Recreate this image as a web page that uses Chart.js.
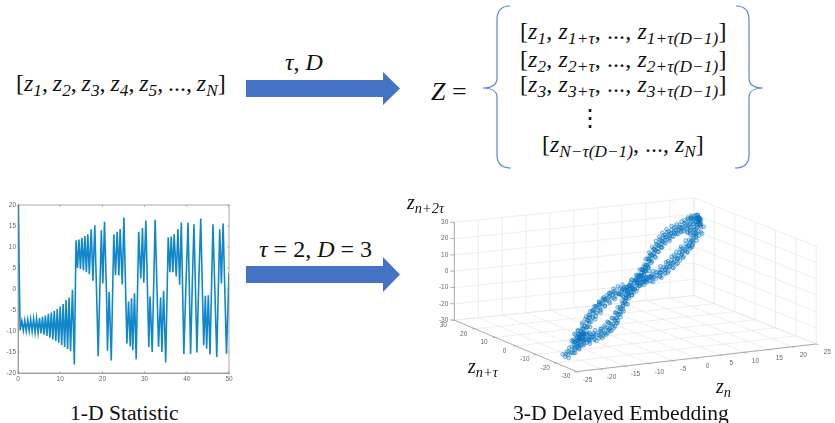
<!DOCTYPE html>
<html>
<head>
<meta charset="utf-8">
<script src="https://cdn.jsdelivr.net/npm/chart.js@4"></script>
<style>
  html, body { margin: 0; padding: 0; background: #fff; overflow: hidden; }
  #page { position: relative; width: 835px; height: 423px; }
  canvas { position: absolute; }
  #statChartBox { position: absolute; left: 0; top: 195px; width: 240px; height: 190px; }
  #embedChartBox { position: absolute; left: 400px; top: 185px; width: 435px; height: 205px; }
  svg { position: absolute; left: 0; top: 0; }
  .t { position: absolute; white-space: nowrap; font-family: "Liberation Serif", serif; color: #111; line-height: 1; }
  .m { font-size: 24px; font-style: italic; }
  .m .u { font-style: normal; }
  .m sub { font-size: 72%; line-height: 0; vertical-align: -0.3em; }
  .cap { font-size: 21.6px; }
</style>
</head>
<body>
<div id="page">
  <svg width="835" height="423">
    <polygon points="246,80 383,80 383,72 400,88.5 383,105 383,97 246,97" fill="#4472C4"/>
    <polygon points="246,266 383,266 383,257 400,274.5 383,292 383,283 246,283" fill="#4472C4"/>
    <g fill="none" stroke="#5B87D2" stroke-width="1.2">
      <path d="M510,6 C501,6 497,11 497,20 L497,78 C497,85 491,88 483,88 C491,88 497,91 497,97 L497,155 C497,163 501,168 511,168"/>
      <path d="M736,6 C745,6 749,11 749,20 L749,78 C749,85 755,88 763,88 C755,88 749,91 749,97 L749,155 C749,163 745,168 735,168"/>
    </g>
  </svg>

  <div id="statChartBox"><canvas id="statChart"></canvas></div>
  <div id="embedChartBox"><canvas id="embedChart"></canvas></div>

  <div class="t m" style="left:16px;top:71px;word-spacing:-1.2px"><span class="u">[</span>z<sub>1</sub><span class="u">, </span>z<sub>2</sub><span class="u">, </span>z<sub>3</sub><span class="u">, </span>z<sub>4</sub><span class="u">, </span>z<sub>5</sub><span class="u">, ..., </span>z<sub>N</sub><span class="u">]</span></div>
  <div class="t m" style="left:285px;top:50px">τ<span class="u">, </span>D</div>
  <div class="t m" style="left:431px;top:79px;font-size:26px">Z <span class="u">=</span></div>

  <div class="t m" style="left:520px;top:19px;letter-spacing:0.1px"><span class="u">[</span>z<sub>1</sub><span class="u">, </span>z<sub>1+τ</sub><span class="u">, ..., </span>z<sub>1+τ(D−1)</sub><span class="u">]</span></div>
  <div class="t m" style="left:520px;top:47px;letter-spacing:0.1px"><span class="u">[</span>z<sub>2</sub><span class="u">, </span>z<sub>2+τ</sub><span class="u">, ..., </span>z<sub>2+τ(D−1)</sub><span class="u">]</span></div>
  <div class="t m" style="left:520px;top:72px;letter-spacing:0.1px"><span class="u">[</span>z<sub>3</sub><span class="u">, </span>z<sub>3+τ</sub><span class="u">, ..., </span>z<sub>3+τ(D−1)</sub><span class="u">]</span></div>
  <div class="t m" style="left:578px;top:106px"><span class="u">⋮</span></div>
  <div class="t m" style="left:542px;top:132px"><span class="u">[</span>z<sub>N−τ(D−1)</sub><span class="u">, ..., </span>z<sub>N</sub><span class="u">]</span></div>

  <div class="t m" style="left:259px;top:237px">τ <span class="u">= 2, </span>D <span class="u">= 3</span></div>

  <div class="t m" style="left:407px;top:192px;font-size:20px">z<sub>n+2τ</sub></div>
  <div class="t m" style="left:468px;top:356px;font-size:20px">z<sub>n+τ</sub></div>
  <div class="t m" style="left:716px;top:376px;font-size:20px">z<sub>n</sub></div>

  <div class="t cap" style="left:70px;top:403px">1-D Statistic</div>
  <div class="t cap" style="left:513px;top:403px">3-D Delayed Embedding</div>
</div>

<script>
// 1-D statistic, turning points
const statTime = [0, 0.1, 0.3, 0.5,
  0.9, 1.25, 1.6, 1.95, 2.3, 2.65, 3.0, 3.35, 3.7, 4.05, 4.4, 4.75, 5.1, 5.45, 5.8, 6.15,
  6.5, 6.85, 7.2, 7.55, 7.9, 8.25, 8.6, 8.95, 9.3, 9.65, 10.0, 10.35, 10.7, 11.05, 11.4, 11.75,
  12.1, 12.45, 12.9, 13.35,
  13.75, 14.1, 14.45, 14.8, 15.15, 15.5, 15.85, 16.2, 16.55, 16.9, 17.35, 17.75, 18.2, 18.7, 19.0,
  19.75, 20.1, 20.5, 21.0, 21.2, 21.6, 22.1, 22.7, 23.1, 23.5, 23.9, 24.2, 24.7, 25.1, 25.8,
  26.2, 26.6, 26.9, 27.2, 27.6, 28.0, 28.6, 29.1, 29.5, 29.8, 30.3, 31.0, 31.3, 31.8, 32.5,
  33.3, 33.8, 34.1, 34.5, 35.0, 35.6, 36.0, 36.3, 36.7, 37.0, 37.5, 37.9, 38.3, 38.7, 39.3,
  39.8, 40.3, 40.9, 41.3, 41.7, 42.4, 42.8, 43.3, 44.0, 44.4, 44.7, 45.1, 45.5, 46.2, 47.1,
  47.8, 48.2, 48.6, 49.4, 50];
const statValue = [8.5, 20, 3, -9.8,
  -7.6, -9.9, -7.5, -10, -7.3, -10, -7.2, -10.1, -7.1, -10.3, -7.0, -10.4, -6.9, -10.6, -6.6, -10.9,
  -6.3, -11.2, -5.9, -11.6, -5.6, -12, -5.2, -12.4, -4.8, -12.8, -4.2, -13.3, -3.6, -13.8, -2.6, -14.3,
  -2, -14.8, -0.2, -18,
  11.6, 5, 11.8, 4.8, 12.2, 4.5, 12.6, 4, 13, 3.5, 14.2, 2, 15.2, -4, -16,
  14, 1.3, 16, -2, -14.7, -0.7, -17, 13, 3.3, 13.6, 3.2, 14.3, 1.1, 17, -13,
  -3, -13.7, -2.2, -14.6, -1, -16.7, 13.6, 2.5, 14.5, 1.5, 16.3, -13.8, -1.8, -15, 16.5,
  -13.8, -2, -15, -0.5, -17.5, 12.3, 4, 12.5, 4, 13, 3, 14.3, 1, 15.8, -15.5,
  1, 15.8, -15.5, 1.2, 15.4, -15.1, 0.2, 16.8, -13.4, -1.6, -14.2, -1.5, -15.6, 15.4, -16.2,
  14.2, 1.3, 15.6, -15.4, 3.8];
const statXTicks = [0, 10, 20, 30, 40, 50];
const statYTicks = [-20, -15, -10, -5, 0, 5, 10, 15, 20];

// 3-D embedding: z_n and the step to z_(n+tau), estimated from the ring seen in the picture
const embedZn = [
  1.2,1.9,2.6,3.2,3.9,4.5,5.2,5.8,6.5,7.1,7.8,8.4,9.1,9.7,10.4,11.0,11.7,12.3,13.0,13.6,14.3,14.9,15.6,16.2,16.9,17.5,18.2,18.8,19.5,20.1,
  0.8,2.2,3.5,4.8,6.1,7.4,8.7,10.0,11.3,12.6,13.9,15.2,16.5,17.8,19.1,20.4,21.1,21.8,22.4,22.8,
  0.9,1.6,2.3,2.9,3.6,4.2,4.9,5.5,6.2,6.8,7.5,8.1,8.8,9.4,10.1,10.7,11.4,12.0,12.7,13.3,14.0,14.6,15.3,15.9,16.6,17.2,17.9,18.5,19.2,19.8,20.5,21.1,21.8,22.4,
  1.3,3.0,4.6,6.0,7.4,8.9,10.3,11.7,13.1,14.5,15.9,17.3,18.7,20.1,21.5,22.6,22.8,
  -2.5,-2.0,-1.6,-1.1,-0.7,-0.2,0.2,0.7,1.1,1.6,-1.8,-0.9,0.0,0.9,-3.0,-3.5,2.0,2.5,-1.3,0.4,
  -1.5,-2.2,-2.9,-3.5,-4.2,-4.8,-5.5,-6.1,-6.8,-7.4,-8.1,-8.7,-9.4,-10.0,-10.7,-11.3,-12.0,-12.6,-13.3,-13.9,-14.6,-15.2,-15.9,-16.5,-17.2,-17.8,-18.5,-19.1,-19.8,-20.4,
  -2.6,-3.9,-5.2,-6.5,-7.8,-9.1,-10.4,-11.7,-13.0,-14.3,-15.6,-16.9,-18.2,-19.5,-20.8,-21.4,
  -1.2,-1.9,-2.6,-3.2,-3.9,-4.5,-5.2,-5.8,-6.5,-7.1,-7.8,-8.4,-9.1,-9.7,-10.4,-11.0,-11.7,-12.3,-13.0,-13.6,-14.3,-14.9,-15.6,-16.2,-16.9,-17.5,-18.2,
  -3.0,-4.6,-6.2,-7.6,-9.0,-10.4,-11.8,-13.2,-14.6,-16.0,-17.4,-18.8,-19.6,
  -18.6,-19.2,-19.9,-20.5,-21.1,-21.7,-22.3,-22.9,-23.5,-24.1,-19.0,-20.0,-21.0,-22.0,-23.0,-24.0,-18.0,-20.7,-22.6,-24.6,-17.0,-18.4,-19.7,-21.4,
  20.7,21.4,22.0,22.6,22.6,22.9,23.0,20.0,21.0,22.2,22.8,22.3,19.5,18.4,
  2.7,4.1,5.4,6.3,7.0,7.9,8.3,9.3,9.9,10.6,11.2,11.9,12.4,13.2,13.8,14.6,15.4,16.0,16.8,17.6,18.3,19.3,20.2,21.3,3.1,5.0,6.7,8.1,9.6,11.0,12.8,14.1,15.7,17.1,18.9,20.8,
  1.9,3.3,4.4,5.7,6.9,8.0,9.0,9.8,10.9,11.8,12.4,13.5,14.3,15.2,16.1,17.0,17.8,18.8,19.6,20.7,21.6,22.3,22.5,22.7,2.6,5.0,7.1,9.3,11.1,12.9,14.9,16.8,18.2,20.3,
  -4.0,-3.2,-2.3,-1.4,-0.4,0.6,1.5,2.3,3.2,4.1,-2.8,-1.0,0.3,1.9,-4.6,4.8,-3.7,3.6,
  -3.1,-4.4,-5.7,-6.6,-7.2,-8.3,-9.0,-9.8,-10.6,-11.4,-12.2,-13.1,-13.8,-14.8,-15.4,-16.2,-17.0,-18.0,-19.0,-20.0,-21.0,-22.0,-6.0,-8.8,-10.9,-12.9,-15.0,-17.6,-19.4,
  -2.1,-3.4,-4.2,-5.1,-6.0,-6.9,-7.4,-8.1,-8.8,-9.5,-10.1,-10.8,-11.4,-12.1,-12.8,-13.4,-14.1,-14.9,-15.8,-16.6,-17.7,-18.5,-5.6,-8.4,-11.2,-13.9,-16.4,
  -17.8,-18.3,-18.9,-19.4,-20.2,-20.9,-21.6,-22.2,-23.2,-24.3,-25.0,-25.3,-19.3,-20.3,-18.2,-17.3,
  19.1,20.1,21.0,22.0,22.5,22.9,23.1,22.5,18.1,17.2,21.7,22.9,
  3.4,4.3,5.0,5.9,6.6,7.3,8.0,8.8,9.5,10.2,10.9,11.5,12.2,13.0,13.7,14.4,15.1,16.0,16.7,17.4,18.0,2.0,4.0,6.2,8.5,10.5,12.0,13.5,15.5,17.0,
  2.8,3.7,4.6,5.3,6.4,7.2,7.9,8.6,9.2,10.0,10.6,11.3,12.1,12.8,13.6,14.2,15.0,15.7,16.4,17.1,17.8,18.6,19.3,20.0,4.0,6.6,8.4,10.4,12.5,14.8,
  18.4,19.0,19.6,20.2,20.8,21.4,22.0,18.8,19.8,20.6,21.6,22.4,19.2,20.4,21.2,22.2,
  -5.0,-4.4,-3.8,-3.3,-2.7,-2.1,-1.5,-0.9,-0.3,0.3,0.9,1.5,2.1,2.7,3.3,3.9,4.5,5.0,-4.2,-2.4,-0.6,1.2,3.0,4.2,-3.0,-1.2,0.6,2.4,
  -5.0,-5.9,-6.7,-7.5,-8.2,-9.0,-9.7,-10.4,-11.1,-11.8,-12.5,-13.2,-13.9,-14.6,-15.3,-16.0,-16.7,-17.4,-18.1,-18.8,-19.5,-7.1,-9.4,-11.5,-13.6,-15.7,
  -4.5,-5.3,-6.3,-7.0,-7.9,-8.6,-9.3,-10.0,-10.7,-11.5,-12.2,-12.9,-13.7,-14.4,-15.2,-16.0,-16.8,-17.6,-6.6,-9.0,-11.0,-13.2,-15.6,
  -17.2,-17.9,-18.6,-19.3,-20.0,-20.6,-21.2,-18.2,-19.0,-19.8,-20.4,-21.0,-16.5,-17.5,-18.8,-19.6];
const embedStep = [
  0.1,0.9,0.2,1.2,0.5,1.5,0.7,1.9,0.8,2.1,1.0,2.4,1.3,2.7,1.5,2.9,1.6,2.9,1.5,2.8,1.3,2.4,0.9,2.2,0.6,1.8,0.3,1.3,0.2,1.0,
  0.6,0.4,0.9,1.1,1.2,1.6,1.9,2.1,2.3,2.3,2.1,1.7,1.4,0.9,0.7,0.3,0.8,0.2,-0.3,0.3,
  -0.3,-1.1,-0.6,-1.7,-1.0,-2.3,-1.3,-2.7,-1.6,-3.1,-2.0,-3.4,-2.2,-3.6,-2.3,-3.8,-2.4,-3.9,-2.5,-3.9,-2.5,-3.9,-2.4,-3.8,-2.3,-3.6,-2.2,-3.4,-2.1,-3.0,-1.5,-2.4,-1.0,-1.6,
  -0.7,-1.3,-1.9,-2.2,-2.6,-2.9,-3.1,-3.2,-3.3,-3.2,-3.1,-3.0,-2.8,-2.2,-1.2,-0.7,-0.2,
  0.4,-0.5,0.8,-0.2,-0.8,0.3,-0.4,0.5,-0.9,-0.1,0.1,1.0,-1.0,0.2,-0.3,0.6,-0.3,0.3,-0.4,0.7,
  0.9,0.3,1.4,0.8,1.9,1.1,2.4,1.5,2.8,1.9,3.1,2.3,3.3,2.4,3.3,2.4,3.3,2.3,3.2,2.2,3.1,2.1,3.0,1.6,2.7,1.1,2.0,0.5,1.4,0.3,
  0.7,1.3,1.6,2.2,2.6,2.9,3.0,3.1,3.0,2.9,2.5,2.1,1.5,0.9,0.5,0.9,
  -0.1,-0.8,-0.4,-1.2,-0.6,-1.6,-0.9,-1.9,-1.3,-2.2,-1.6,-2.8,-2.0,-3.2,-2.2,-3.3,-2.1,-3.0,-1.8,-2.7,-1.4,-2.3,-0.9,-1.8,-0.5,-1.2,-0.3,
  -0.7,-1.1,-1.5,-2.0,-2.4,-2.8,-2.7,-2.4,-1.8,-1.1,-0.7,-0.2,-0.4,
  1.1,0.2,1.6,0.6,1.2,0.2,1.0,0.1,0.8,0.4,-0.6,-0.3,-0.1,0.5,1.3,1.1,0.4,-0.5,-0.3,0.9,0.6,1.3,1.0,1.6,
  -0.4,0.4,-0.9,-0.5,-1.0,-0.3,-0.6,0.2,-1.6,-1.8,-0.9,-0.4,-0.9,-0.8,
  1.5,0.1,2.2,0.6,2.6,0.7,3.0,1.1,3.3,1.2,3.4,1.3,3.5,1.0,3.4,1.0,3.0,0.6,2.4,0.2,2.0,0.0,1.6,1.3,-0.2,0.3,2.0,1.7,2.5,2.6,2.7,2.6,2.3,1.5,1.1,0.9,
  -1.6,-0.8,-2.7,-1.0,-3.5,-1.5,-3.8,-1.8,-4.0,-1.9,-4.0,-1.9,-4.0,-1.9,-3.9,-1.7,-3.8,-1.6,-3.6,-3.2,-2.9,-2.2,-1.7,-1.2,-1.0,-1.6,-2.4,-2.8,-3.0,-3.1,-3.0,-2.9,-2.7,-2.5,
  -0.9,0.9,0.9,-1.0,1.2,-0.9,1.0,-1.2,1.2,-1.4,-0.2,0.5,0.1,0.5,0.7,-0.3,1.4,0.4,
  2.1,2.6,3.0,1.1,3.1,1.4,3.3,1.7,3.4,1.8,3.5,1.7,3.4,1.6,3.3,1.4,3.0,0.9,2.5,2.2,1.8,0.0,2.5,2.7,3.0,3.1,2.7,1.9,1.3,
  -1.2,-0.2,-1.9,-0.4,-2.3,-0.7,-2.7,-1.1,-3.1,-1.4,-3.3,-1.5,-3.2,-1.3,-3.0,-1.1,-2.9,-0.4,-2.3,-0.1,-1.6,0.1,-1.4,-2.2,-2.6,-2.0,-0.9,
  2.2,-0.9,2.5,-0.8,2.6,-0.6,2.0,-0.5,0.2,-0.2,0.6,1.4,1.9,1.0,0.8,-1.0,
  1.7,1.3,1.1,0.7,0.6,0.3,-0.9,-0.2,-3.6,-3.8,-3.4,-2.6,
  0.8,1.0,1.0,1.4,1.3,1.8,1.5,2.0,1.7,2.2,1.9,2.0,1.9,2.1,1.8,1.9,1.5,1.6,1.1,1.2,0.8,0.5,1.3,1.7,2.4,1.4,2.5,1.4,1.2,0.4,
  -1.4,-1.9,-1.6,-2.2,-1.9,-2.5,-2.3,-2.8,-2.5,-3.1,-2.7,-3.2,-2.8,-3.3,-2.9,-3.4,-2.9,-3.3,-2.9,-3.2,-2.8,-3.1,-2.6,-2.8,-1.1,-3.0,-3.4,-2.0,-2.1,-2.2,
  -0.6,-1.2,-0.4,-1.4,-0.3,-1.6,-0.7,0.0,-2.0,-1.0,-0.5,-1.3,-0.9,-2.1,0.3,0.1,
  1.2,0.2,-0.6,1.3,0.2,-1.2,0.6,-0.6,1.3,0.5,-1.1,0.7,-0.9,0.6,-1.3,0.3,-1.5,0.5,-0.1,1.0,-1.3,1.3,0.0,0.8,-0.8,0.2,-0.2,-0.5,
  1.2,2.0,1.5,2.4,1.7,2.6,1.8,2.7,1.9,2.8,2.0,2.7,1.9,2.6,1.8,2.2,1.5,1.8,1.0,1.5,0.9,2.9,3.0,1.4,1.3,1.0,
  -0.9,-1.3,-1.0,-1.7,-1.2,-2.1,-1.5,-2.5,-1.7,-2.7,-1.7,-2.5,-1.5,-2.3,-1.2,-1.6,-0.7,-0.8,-2.0,-2.9,-1.2,-1.3,-0.6,
  0.2,1.2,0.6,1.6,0.9,1.5,0.4,0.0,1.3,0.4,-0.1,1.3,0.2,0.6,0.0,0.8];
const embedXTicks = [-25, -20, -15, -10, -5, 0, 5, 10, 15, 20, 25];
const embedYTicks = [-30, -20, -10, 0, 10, 20, 30];
const embedZTicks = [-30, -20, -10, 0, 10, 20, 30];

// MATLAB style ticks on the inside of the box
const innerTicks = {
  id: 'innerTicks',
  afterDraw(chart) {
    const { ctx, chartArea: a, scales } = chart;
    ctx.save();
    ctx.strokeStyle = '#777';
    ctx.lineWidth = 0.5;
    ctx.beginPath();
    scales.x.ticks.forEach(t => {
      const px = scales.x.getPixelForValue(t.value);
      ctx.moveTo(px, a.bottom); ctx.lineTo(px, a.bottom - 2);
      ctx.moveTo(px, a.top); ctx.lineTo(px, a.top + 2);
    });
    scales.y.ticks.forEach(t => {
      const py = scales.y.getPixelForValue(t.value);
      ctx.moveTo(a.left, py); ctx.lineTo(a.left + 2, py);
      ctx.moveTo(a.right, py); ctx.lineTo(a.right - 2, py);
    });
    ctx.stroke();
    ctx.restore();
  }
};

new Chart(document.getElementById('statChart'), {
  type: 'line',
  data: {
    datasets: [{
      data: statTime.map((t, i) => ({ x: t, y: statValue[i] })),
      borderColor: '#0F87C8',
      borderWidth: 1.6,
      pointRadius: 0,
      tension: 0
    }]
  },
  options: {
    responsive: true,
    maintainAspectRatio: false,
    animation: false,
    layout: { padding: { top: 10, right: 11, left: 0, bottom: 0 } },
    plugins: { legend: { display: false }, tooltip: { enabled: false } },
    scales: {
      x: {
        type: 'linear', min: 0, max: 50,
        afterBuildTicks: s => { s.ticks = statXTicks.map(v => ({ value: v })); },
        afterFit: s => { s.height = 12; },
        grid: { display: false, drawTicks: false },
        border: { display: true, color: '#888', width: 0.7 },
        ticks: { font: { size: 6.5, family: 'Liberation Sans' }, color: '#666', padding: 2, maxRotation: 0 }
      },
      y: {
        min: -20, max: 20,
        afterBuildTicks: s => { s.ticks = statYTicks.map(v => ({ value: v })); },
        afterFit: s => { s.width = 18; },
        grid: { display: false, drawTicks: false },
        border: { display: true, color: '#888', width: 0.7 },
        ticks: { font: { size: 6.5, family: 'Liberation Sans' }, color: '#666', padding: 2 }
      }
    }
  },
  plugins: [innerTicks, {
    id: 'boxFrame',
    afterDraw(chart) {
      const { ctx, chartArea: a } = chart;
      ctx.save();
      ctx.strokeStyle = '#888';
      ctx.lineWidth = 0.7;
      ctx.strokeRect(a.left, a.top, a.right - a.left, a.bottom - a.top);
      ctx.restore();
    }
  }]
});

// fixed MATLAB view of the 3-D box, slight perspective on the floor
function project(x, y, z) {
  return {
    x: 4.9 * x - 2.083 * y,
    y: 0.547 * x + 0.8725 * y - 0.00107 * x * y + 1.707 * z
  };
}

// list of segments, NaN point breaks the line between them
function segments(pairs) {
  const out = [];
  pairs.forEach(p => {
    out.push(project(...p[0]), project(...p[1]), { x: NaN, y: NaN });
  });
  return out;
}

const xLo = embedXTicks[0], xHi = embedXTicks[embedXTicks.length - 1];
const yLo = embedYTicks[0], yHi = embedYTicks[embedYTicks.length - 1];
const zLo = embedZTicks[0], zHi = embedZTicks[embedZTicks.length - 1];

const gridPairs = [];
embedXTicks.forEach(x => {
  gridPairs.push([[x, yHi, zLo], [x, yHi, zHi]]);
  gridPairs.push([[x, yLo, zLo], [x, yHi, zLo]]);
});
embedYTicks.forEach(y => {
  gridPairs.push([[xHi, y, zLo], [xHi, y, zHi]]);
  gridPairs.push([[xLo, y, zLo], [xHi, y, zLo]]);
});
embedZTicks.forEach(z => {
  gridPairs.push([[xLo, yHi, z], [xHi, yHi, z]]);
  gridPairs.push([[xHi, yHi, z], [xHi, yLo, z]]);
});

const axisPairs = [
  [[xLo, yHi, zLo], [xLo, yHi, zHi]],
  [[xLo, yHi, zLo], [xLo, yLo, zLo]],
  [[xLo, yLo, zLo], [xHi, yLo, zLo]]
];
embedZTicks.forEach(z => axisPairs.push([[xLo, yHi, z], [xLo - 0.6, yHi + 0.6, z]]));
embedYTicks.forEach(y => axisPairs.push([[xLo, y, zLo], [xLo - 0.5, y, zLo]]));
embedXTicks.forEach(x => axisPairs.push([[x, yLo, zLo], [x, yLo - 1, zLo]]));

const embedPoints = embedZn.map((v, i) =>
  project(v, v + embedStep[i], v + 2 * embedStep[i]));

const boxLabels = {
  id: 'boxLabels',
  afterDraw(chart) {
    const { ctx, scales } = chart;
    const put = (txt, p, dx, dy, align) => {
      ctx.textAlign = align;
      ctx.fillText(txt, scales.x.getPixelForValue(p.x) + dx, scales.y.getPixelForValue(p.y) + dy);
    };
    ctx.save();
    ctx.font = '6.5px "Liberation Sans"';
    ctx.fillStyle = '#666';
    ctx.textBaseline = 'middle';
    embedZTicks.forEach(z => put(String(z), project(xLo, yHi, z), -6, 0, 'right'));
    embedYTicks.forEach(y => put(String(y), project(xLo, y, zLo), -11, 5, 'center'));
    embedXTicks.forEach(x => put(String(x), project(x, yLo, zLo), 11, 8.5, 'center'));
    ctx.restore();
  }
};

new Chart(document.getElementById('embedChart'), {
  type: 'line',
  data: {
    datasets: [{
      data: embedPoints,
      showLine: false,
      pointStyle: 'circle',
      pointRadius: 1.9,
      pointBorderWidth: 0.7,
      pointBackgroundColor: 'rgba(0,114,189,0.2)',
      pointBorderColor: 'rgba(0,114,189,0.7)'
    }, {
      data: segments(axisPairs),
      borderColor: '#9a9a9a',
      borderWidth: 0.8,
      pointRadius: 0,
      spanGaps: false
    }, {
      data: segments(gridPairs),
      borderColor: '#e6e6e6',
      borderWidth: 0.7,
      pointRadius: 0,
      spanGaps: false
    }]
  },
  options: {
    responsive: true,
    maintainAspectRatio: false,
    animation: false,
    layout: { padding: 0 },
    plugins: { legend: { display: false }, tooltip: { enabled: false } },
    scales: {
      x: { type: 'linear', display: false, min: -235.7, max: 199.3 },
      y: { type: 'linear', display: false, min: -106.2, max: 98.8 }
    }
  },
  plugins: [boxLabels]
});
</script>
</body>
</html>
